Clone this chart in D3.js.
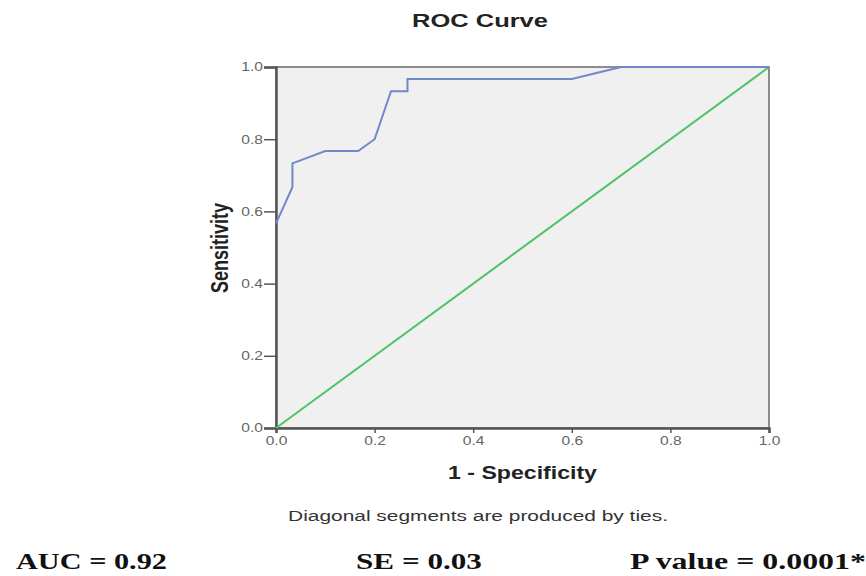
<!DOCTYPE html>
<html>
<head>
<meta charset="utf-8">
<script src="https://cdn.jsdelivr.net/npm/d3@7"></script>
<style>
  body { margin: 0; background: #fff; }
  svg { display: block; }
</style>
</head>
<body>
<div id="chart"></div>
<script>
// ROC points: 1 - specificity vs sensitivity
var fpr = [0, 0.0333, 0.0333, 0.1, 0.1667, 0.2, 0.2333, 0.2667, 0.2667, 0.6, 0.7, 1.0];
var tpr = [0.567, 0.667, 0.733, 0.767, 0.767, 0.8, 0.933, 0.933, 0.967, 0.967, 1.0, 1.0];
var refLine = [0, 1];
var ticks = [0, 0.2, 0.4, 0.6, 0.8, 1.0];
var stats = ["AUC = 0.92", "SE = 0.03", "P value = 0.0001*"];

var W = 866, H = 576;
var margin = { top: 67, left: 276 },
    width = 493,
    height = 361;
var sans = "Liberation Sans, Arial, sans-serif";
var tickStretch = 1.3;

var svg = d3.select("#chart").append("svg")
    .attr("width", W)
    .attr("height", H);

// text that is stretched sideways to a given width, like the source image
function wideText(parent, str, x, y, w, anchor) {
    var t = parent.append("text")
        .attr("text-anchor", anchor || "start")
        .text(str);
    return function (style) {
        style(t);
        var len = t.node().getComputedTextLength();
        t.attr("transform", "translate(" + x + "," + y + ") scale(" + (w / len) + ",1)");
        return t;
    };
}

wideText(svg, "ROC Curve", 480, 27, 136, "middle")(function (t) {
    t.style("font-family", sans).style("font-size", "18px")
        .style("font-weight", "bold").style("fill", "#222");
});

var g = svg.append("g")
    .attr("transform", "translate(" + margin.left + "," + margin.top + ")");

var x = d3.scaleLinear().domain([0, 1]).range([0, width]);
var y = d3.scaleLinear().domain([0, 1]).range([height, 0]);

g.append("rect")
    .attr("width", width)
    .attr("height", height)
    .attr("fill", "#f0f0f0")
    .attr("stroke", "#6a6a6a")
    .attr("stroke-width", 1.5);

var xAxis = g.append("g")
    .attr("transform", "translate(0," + height + ")")
    .call(d3.axisBottom(x).tickValues(ticks).tickFormat(d3.format(".1f")).tickSize(5).tickPadding(3));

var yAxis = g.append("g")
    .call(d3.axisLeft(y).tickValues(ticks).tickFormat(d3.format(".1f")).tickSize(12).tickPadding(1));

[xAxis, yAxis].forEach(function (a) {
    a.select(".domain").attr("stroke", "#555").attr("stroke-width", 2.5);
    a.selectAll(".tick line").attr("stroke", "#555").attr("stroke-width", 1.5);
    a.selectAll(".tick text")
        .style("font-family", sans)
        .style("font-size", "12px")
        .style("fill", "#666")
        .attr("transform", "scale(" + tickStretch + ",1)");
});
yAxis.selectAll(".tick text").attr("x", -13 / tickStretch);

// reference diagonal
g.append("line")
    .attr("x1", x(refLine[0])).attr("y1", y(refLine[0]))
    .attr("x2", x(refLine[1])).attr("y2", y(refLine[1]))
    .attr("stroke", "#4cc462")
    .attr("stroke-width", 2);

var rocData = fpr.map(function (d, i) { return [d, tpr[i]]; });

g.append("path")
    .datum(rocData)
    .attr("fill", "none")
    .attr("stroke", "#6f88c8")
    .attr("stroke-width", 2)
    .attr("d", d3.line().x(function (d) { return x(d[0]); }).y(function (d) { return y(d[1]); }));

wideText(svg, "1 - Specificity", 522.5, 479, 149, "middle")(function (t) {
    t.style("font-family", sans).style("font-size", "18px")
        .style("font-weight", "bold").style("fill", "#222");
});

svg.append("text")
    .attr("transform", "translate(228,248) scale(1.3,1) rotate(-90)")
    .attr("text-anchor", "middle")
    .style("font-family", sans)
    .style("font-size", "18px")
    .style("font-weight", "bold")
    .style("fill", "#222")
    .text("Sensitivity");

wideText(svg, "Diagonal segments are produced by ties.", 478, 521, 380, "middle")(function (t) {
    t.style("font-family", sans).style("font-size", "15px").style("fill", "#333");
});

var statX = [16, 356, 630],
    statW = [151, 126, 236];
stats.forEach(function (s, i) {
    wideText(svg, s, statX[i], 569, statW[i])(function (t) {
        t.style("font-family", "Liberation Serif, Times New Roman, serif")
            .style("font-size", "23px").style("font-weight", "bold").style("fill", "#111");
    });
});
</script>
</body>
</html>
